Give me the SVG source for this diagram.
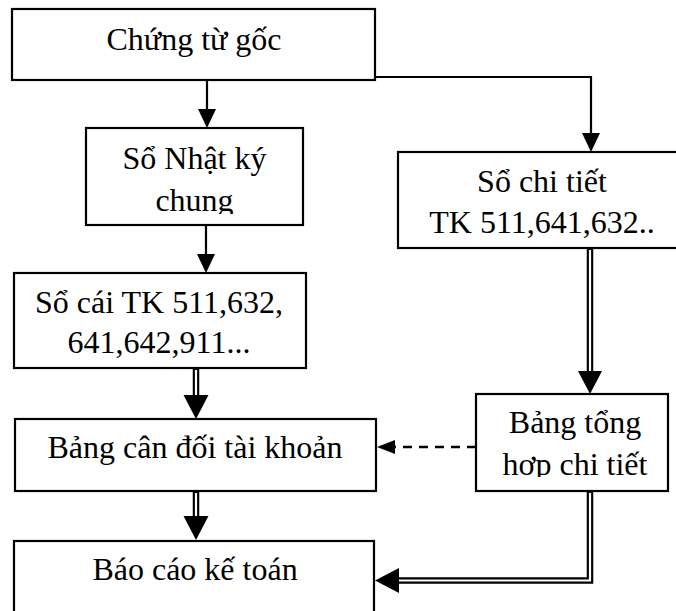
<svg xmlns="http://www.w3.org/2000/svg" width="676" height="611" viewBox="0 0 676 611">
  <style>
    .box { fill: #fff; stroke: #000; stroke-width: 2.2; }
    .lbl { font-family: "Liberation Serif", "Times New Roman", serif; font-size: 32px; fill: #000; text-anchor: middle; }
    .ln { fill: none; stroke: #000; stroke-width: 2.2; }
    .dash { fill: none; stroke: #000; stroke-width: 2.5; stroke-dasharray: 9 7; }
    .dbl-o { fill: none; stroke: #000; stroke-width: 6.5; stroke-linejoin: miter; }
    .dbl-i { fill: none; stroke: #fff; stroke-width: 2.2; stroke-linejoin: miter; }
    .head { fill: #000; stroke: none; }
  </style>
  <defs>
    <clipPath id="clipNkc"><rect x="86" y="128" width="217" height="86"/></clipPath>
    <clipPath id="clipTh"><rect x="476" y="394" width="192" height="83"/></clipPath>
  </defs>

  <rect width="676" height="611" fill="#fff"/>

  <!-- nodes -->
  <g id="chung-tu-goc">
    <rect class="box" x="12" y="9" width="363" height="71"/>
    <text class="lbl" x="194" y="50">Chứng từ gốc</text>
  </g>

  <g id="so-nhat-ky-chung">
    <rect class="box" x="86" y="128" width="217" height="97"/>
    <g clip-path="url(#clipNkc)">
      <text class="lbl" x="194.5" y="169">Sổ Nhật ký</text>
      <text class="lbl" x="194.5" y="211">chung</text>
    </g>
  </g>

  <g id="so-cai">
    <rect class="box" x="14" y="273" width="292" height="95"/>
    <text class="lbl" x="159" y="313">Sổ cái TK 511,632,</text>
    <text class="lbl" x="159" y="353">641,642,911...</text>
  </g>

  <g id="so-chi-tiet">
    <rect class="box" x="398" y="152" width="290" height="96"/>
    <text class="lbl" x="542" y="192">Sổ chi tiết</text>
    <text class="lbl" x="542" y="233">TK 511,641,632..</text>
  </g>

  <g id="bang-can-doi">
    <rect class="box" x="15" y="419" width="361" height="72"/>
    <text class="lbl" x="195" y="458">Bảng cân đối tài khoản</text>
  </g>

  <g id="bang-tong-hop">
    <rect class="box" x="476" y="394" width="192" height="97"/>
    <g clip-path="url(#clipTh)">
      <text class="lbl" x="575" y="433">Bảng tổng</text>
      <text class="lbl" x="575" y="475">hợp chi tiết</text>
    </g>
  </g>

  <g id="bao-cao">
    <rect class="box" x="14" y="541" width="360" height="90"/>
    <text class="lbl" x="195" y="580">Báo cáo kế toán</text>
  </g>

  <!-- connectors -->
  <g id="connectors">
    <!-- single arrows -->
    <line class="ln" x1="207" y1="80" x2="207" y2="112"/>
    <polygon class="head" points="198,109 216,109 207,128"/>

    <line class="ln" x1="206" y1="225" x2="206" y2="257"/>
    <polygon class="head" points="197,254 215,254 206,273"/>

    <polyline class="ln" points="375,77 591,77 591,136"/>
    <polygon class="head" points="582,133 600,133 591,152"/>

    <!-- double arrows -->
    <line class="dbl-o" x1="196" y1="368" x2="196" y2="397"/>
    <line class="dbl-i" x1="196" y1="370" x2="196" y2="397"/>
    <polygon class="head" points="183.5,395 208.5,395 196,419"/>

    <line class="dbl-o" x1="196" y1="491" x2="196" y2="518"/>
    <line class="dbl-i" x1="196" y1="493" x2="196" y2="518"/>
    <polygon class="head" points="183.5,516 208.5,516 196,540"/>

    <line class="dbl-o" x1="590" y1="248" x2="590" y2="373"/>
    <line class="dbl-i" x1="590" y1="250" x2="590" y2="373"/>
    <polygon class="head" points="578,371 602,371 590,394"/>

    <polyline class="dbl-o" points="590,491 590,580.5 397,580.5"/>
    <polyline class="dbl-i" points="590,493 590,580.5 397,580.5"/>
    <polygon class="head" points="399,568 399,593 375,580.5"/>

    <!-- dashed arrow -->
    <line class="dash" x1="476" y1="447" x2="393" y2="447"/>
    <polygon class="head" points="395,440 395,454 377,447"/>
  </g>
</svg>
